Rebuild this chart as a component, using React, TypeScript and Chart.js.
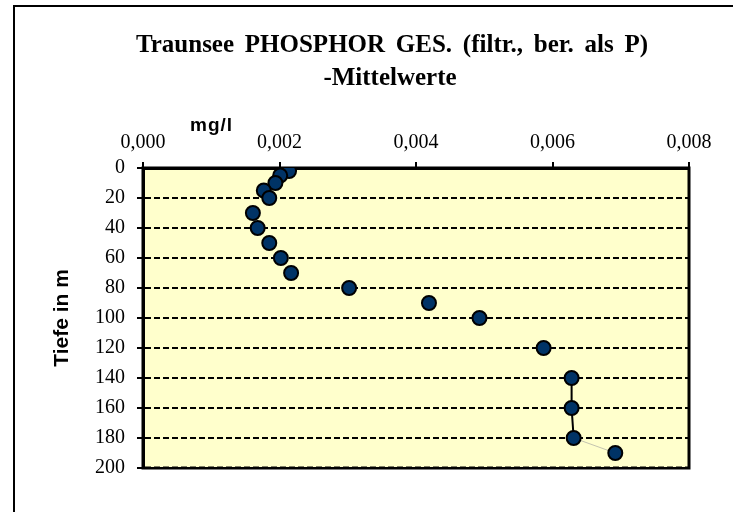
import React, { useEffect, useRef } from 'react';
import { Chart, registerables } from 'chart.js';

Chart.register(...registerables);

const titleLines = ['Traunsee PHOSPHOR GES. (filtr., ber. als P)', '-Mittelwerte'];
const xAxisLabel = 'mg/l';
const yAxisLabel = 'Tiefe in m';

// depth in m
const depths = [0, 2, 5, 10, 15, 20, 30, 40, 50, 60, 70, 80, 90, 100, 120, 140, 160, 180, 190];
// mean total phosphorus (filtered) in mg/l
const values = [
  0.0021, 0.00214, 0.00201, 0.00194, 0.00177, 0.00185, 0.00161, 0.00168, 0.00185, 0.00202,
  0.00217, 0.00302, 0.00419, 0.00493, 0.00587, 0.00628, 0.00628, 0.00631, 0.00692,
];

const xMin = 0;
const xMax = 0.008;
const xStep = 0.002;
const yMin = 0;
const yMax = 200;
const yStep = 20;

export default function App() {
  const ref = useRef<HTMLCanvasElement>(null);

  useEffect(() => {
    document.body.style.margin = '0';
    const canvas = ref.current;
    if (!canvas) return;

    const decor = {
      id: 'decor',
      beforeDraw(chart: any) {
        const { ctx, chartArea: a } = chart;
        ctx.save();
        ctx.fillStyle = '#ffffff';
        ctx.fillRect(0, 0, chart.width, chart.height);
        ctx.fillStyle = '#FFFFCC';
        ctx.fillRect(a.left, a.top, a.right - a.left, a.bottom - a.top);
        ctx.strokeStyle = '#000';
        ctx.lineWidth = 2;
        ctx.beginPath();
        ctx.moveTo(14, chart.height);
        ctx.lineTo(14, 6);
        ctx.lineTo(chart.width, 6);
        ctx.stroke();
        ctx.restore();
      },
      beforeDatasetsDraw(chart: any) {
        const { ctx, chartArea: a } = chart;
        ctx.save();
        ctx.strokeStyle = '#000';
        ctx.lineWidth = 3;
        ctx.strokeRect(a.left, a.top, a.right - a.left, a.bottom - a.top);
        // dashed gridline shows over the bottom border in the reference
        ctx.strokeStyle = '#FFFFCC';
        ctx.lineWidth = 1;
        ctx.setLineDash([3, 6]);
        ctx.lineDashOffset = -6;
        ctx.beginPath();
        ctx.moveTo(a.left + 2, a.bottom - 1.5);
        ctx.lineTo(a.right - 2, a.bottom - 1.5);
        ctx.stroke();
        ctx.restore();
      },
      afterDraw(chart: any) {
        const { ctx } = chart;
        ctx.save();
        ctx.fillStyle = '#000';
        ctx.textAlign = 'center';
        ctx.textBaseline = 'alphabetic';
        ctx.font = 'bold 25px "Liberation Serif", "Times New Roman", serif';
        try { (ctx as any).wordSpacing = '4.5px'; } catch (e) {}
        ctx.fillText(titleLines[0], 392, 52);
        ctx.fillText(titleLines[1], 390, 85);
        try { (ctx as any).wordSpacing = '0px'; } catch (e) {}
        ctx.textAlign = 'left';
        ctx.font = 'bold 19px "Liberation Sans", Arial, sans-serif';
        try { (ctx as any).letterSpacing = '1px'; } catch (e) {}
        ctx.fillText(xAxisLabel, 190, 131);
        ctx.restore();
      },
    };

    const chart = new Chart(canvas, {
      type: 'scatter',
      data: {
        datasets: [
          {
            data: depths.map((d, i) => ({ x: values[i], y: d })),
            showLine: true,
            borderColor: 'transparent',
            borderWidth: 2,
            pointRadius: 7,
            pointHoverRadius: 7,
            pointBackgroundColor: '#003366',
            pointBorderColor: '#000000',
            pointBorderWidth: 2,
            segment: {
              borderColor: (c: any) => {
                const d = depths[c.p0DataIndex];
                if (d === 140 || d === 160) return '#000000';
                if (d === 180) return '#c4c4b0';
                return 'transparent';
              },
              borderWidth: (c: any) => (depths[c.p0DataIndex] === 180 ? 1 : 2),
            },
          },
        ],
      },
      options: {
        animation: false,
        responsive: false,
        devicePixelRatio: 1,
        layout: { padding: { left: 16, top: 0, right: 44, bottom: 44 } },
        plugins: {
          legend: { display: false },
          tooltip: { enabled: false },
          title: { display: false },
        },
        scales: {
          x: {
            type: 'linear',
            position: 'top',
            min: xMin,
            max: xMax,
            afterFit: (s: any) => {
              s.height = 168;
            },
            ticks: {
              stepSize: xStep,
              padding: 7,
              color: '#000',
              font: { family: '"Liberation Serif", "Times New Roman", serif', size: 20 },
              callback: (v: any) => Number(v).toFixed(3).replace('.', ','),
            },
            grid: {
              drawOnChartArea: false,
              drawTicks: true,
              tickLength: 6,
              color: '#000',
              lineWidth: 2,
            },
            border: { display: true, color: '#000', width: 3 },
          },
          y: {
            type: 'linear',
            reverse: true,
            min: yMin,
            max: yMax,
            afterFit: (s: any) => {
              s.width = 127;
            },
            ticks: {
              stepSize: yStep,
              padding: 12,
              color: '#000',
              font: { family: '"Liberation Serif", "Times New Roman", serif', size: 20 },
            },
            grid: {
              drawOnChartArea: true,
              drawTicks: true,
              tickLength: 6,
              color: '#000',
              lineWidth: 2,
            },
            border: { display: true, color: '#000', width: 3, dash: [6, 3] },
            title: {
              display: true,
              text: yAxisLabel,
              color: '#000',
              font: { family: '"Liberation Sans", Arial, sans-serif', size: 21, weight: 'bold' },
              padding: { top: 34, bottom: 0 },
            },
          },
        },
      },
      plugins: [decor],
    } as any);

    return () => {
      chart.destroy();
    };
  }, []);

  return <canvas ref={ref} width={733} height={512} style={{ display: 'block' }} />;
}
